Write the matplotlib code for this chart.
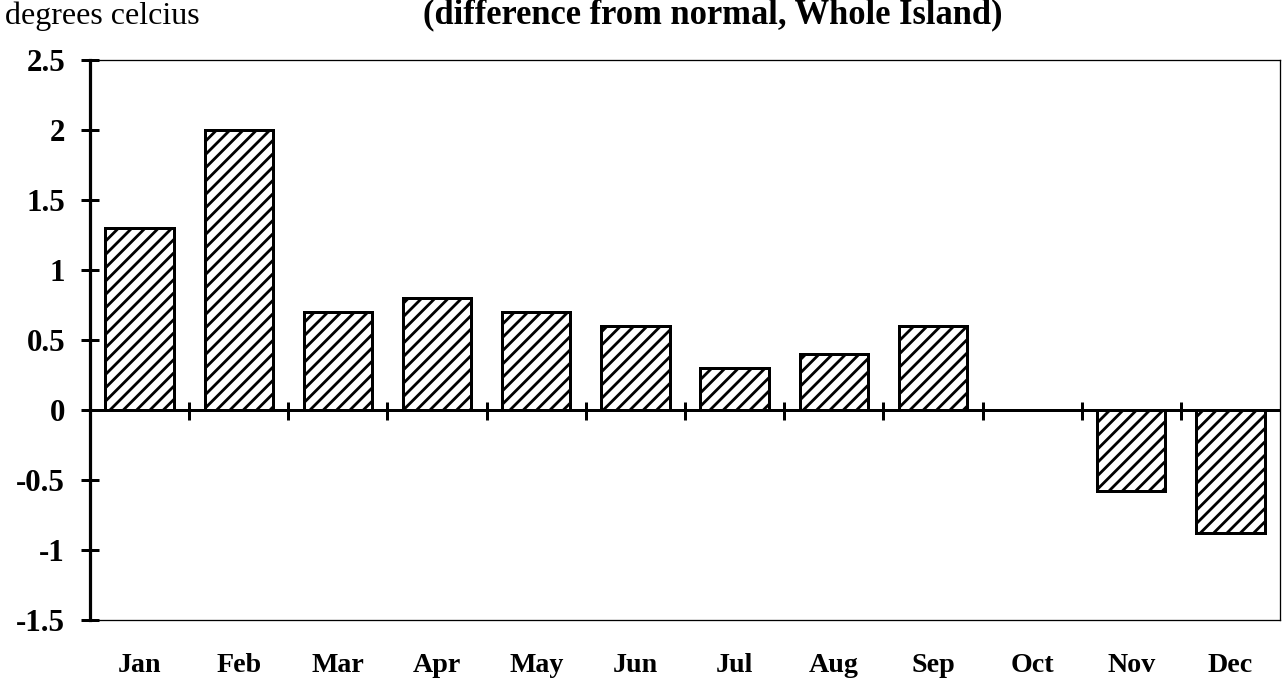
import matplotlib
matplotlib.use("Agg")
import matplotlib.pyplot as plt
import numpy as np

months = ["Jan", "Feb", "Mar", "Apr", "May", "Jun", "Jul", "Aug", "Sep", "Oct", "Nov", "Dec"]
anomaly = [1.3, 2.0, 0.7, 0.8, 0.7, 0.6, 0.3, 0.4, 0.6, 0.0, -0.58, -0.88]
yticks = [-1.5, -1.0, -0.5, 0.0, 0.5, 1.0, 1.5, 2.0, 2.5]
ytick_labels = ["-1.5", "-1", "-0.5", "0", "0.5", "1", "1.5", "2", "2.5"]
title = "(difference from normal, Whole Island)"
ylabel = "degrees celcius"

DPI = 80
W, H = 1282, 686


def pt(px):
    return px * 72.0 / DPI


plt.rcParams["font.family"] = ["Liberation Serif", "DejaVu Serif"]
plt.rcParams["hatch.linewidth"] = pt(2.8)

fig = plt.figure(figsize=(W / DPI, H / DPI), dpi=DPI)
ax = fig.add_axes([90 / W, 1 - 620 / H, (1280 - 90) / W, (620 - 60) / H])

x = np.arange(len(months))
ax.bar(x, anomaly, width=0.69, facecolor="white", edgecolor="black",
       linewidth=pt(3.0), hatch="//", zorder=2)

ax.set_xlim(-0.5, len(months) - 0.5)
ax.set_ylim(yticks[0], yticks[-1])

# zero line with category-boundary ticks
ax.axhline(0, color="black", linewidth=pt(3.0), zorder=3)
ax.vlines(x[1:] - 0.5, -0.07, 0.055, color="black", linewidth=pt(3.0), zorder=3)

ax.set_yticks(yticks)
ax.set_yticklabels(ytick_labels, fontsize=pt(31), fontweight="bold")
ax.tick_params(axis="y", direction="inout", length=pt(18), width=pt(3), pad=pt(16))

ax.set_xticks(x)
ax.set_xticklabels(months, fontsize=pt(28), fontweight="bold")
ax.tick_params(axis="x", length=0, pad=pt(33))

ax.spines["left"].set_linewidth(pt(3.2))
for s in ["top", "right", "bottom"]:
    ax.spines[s].set_linewidth(pt(1.3))

fig.text(5 / W, 1 - 24 / H, ylabel, fontsize=pt(32), ha="left", va="baseline")
fig.text(713 / W, 1 - 23 / H, title, fontsize=pt(34.5), fontweight="bold",
         ha="center", va="baseline")

fig.savefig("out.png", dpi=DPI)
